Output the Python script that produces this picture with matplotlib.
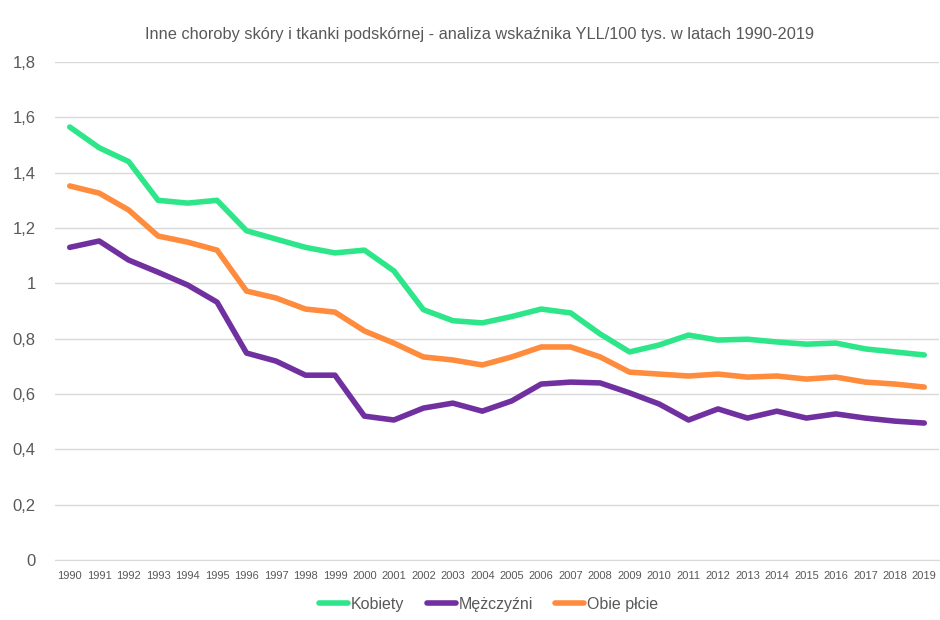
import numpy as np
import matplotlib.pyplot as plt
from matplotlib.ticker import FuncFormatter

plt.rcParams['font.family'] = ['Liberation Sans', 'DejaVu Sans']

# dane
lata = list(range(1990, 2020))
kobiety = [1.565, 1.49, 1.44, 1.30, 1.29, 1.30, 1.19, 1.16, 1.13, 1.11,
           1.12, 1.045, 0.905, 0.865, 0.857, 0.88, 0.907, 0.893, 0.817, 0.752,
           0.777, 0.813, 0.795, 0.798, 0.788, 0.78, 0.784, 0.763, 0.752, 0.741]
mezczyzni = [1.13, 1.153, 1.084, 1.04, 0.994, 0.932, 0.748, 0.719, 0.668, 0.668,
             0.52, 0.506, 0.549, 0.567, 0.538, 0.575, 0.636, 0.643, 0.64, 0.604,
             0.564, 0.506, 0.546, 0.513, 0.538, 0.513, 0.528, 0.513, 0.502, 0.495]
obie = [1.352, 1.326, 1.265, 1.171, 1.149, 1.12, 0.972, 0.947, 0.907, 0.896,
        0.828, 0.784, 0.734, 0.723, 0.705, 0.734, 0.77, 0.77, 0.734, 0.679,
        0.672, 0.665, 0.672, 0.661, 0.665, 0.654, 0.661, 0.643, 0.636, 0.625]
serie = ['Kobiety', 'Mężczyźni', 'Obie płcie']
kolory = ['#2EE68A', '#7030A0', '#FF8B3D']

fig = plt.figure(figsize=(9.4, 6.2), dpi=100)
ax = fig.add_axes([55 / 940, 60 / 620, 884 / 940, 498 / 620])

for nazwa, y, c in zip(serie, [kobiety, mezczyzni, obie], kolory):
    ax.plot(lata, y, color=c, linewidth=4, label=nazwa, solid_capstyle='round')

ax.set_xlim(1989.5, 2019.5)
ax.set_ylim(0, 1.8)
ax.set_yticks(np.arange(0, 1.81, 0.2))
ax.yaxis.set_major_formatter(FuncFormatter(
    lambda v, p: '0' if v == 0 else ('1' if abs(v - 1) < 1e-9 else f'{v:.1f}'.replace('.', ','))))
ax.set_xticks(lata)
ax.set_xticklabels([str(r) for r in lata], fontsize=8, color='#595959')
ax.tick_params(axis='y', labelsize=12, colors='#595959', length=0, pad=14)
ax.tick_params(axis='x', length=0, pad=8)
ax.grid(axis='y', color='#d9d9d9', linewidth=1)
ax.set_axisbelow(True)
for s in ['top', 'right', 'left']:
    ax.spines[s].set_visible(False)
ax.spines['bottom'].set_color('#d9d9d9')

fig.text(0.51, 0.945, 'Inne choroby skóry i tkanki podskórnej - analiza wskaźnika YLL/100 tys. w latach 1990-2019',
         ha='center', va='center', fontsize=11.8, color='#595959')

fig.legend(loc='center', bbox_to_anchor=(0.52, 0.025), ncol=3, frameon=False,
           fontsize=11.5, handlelength=1.8, handletextpad=0.2, columnspacing=1.4,
           labelcolor='#595959')

fig.savefig('out.png', dpi=100)
